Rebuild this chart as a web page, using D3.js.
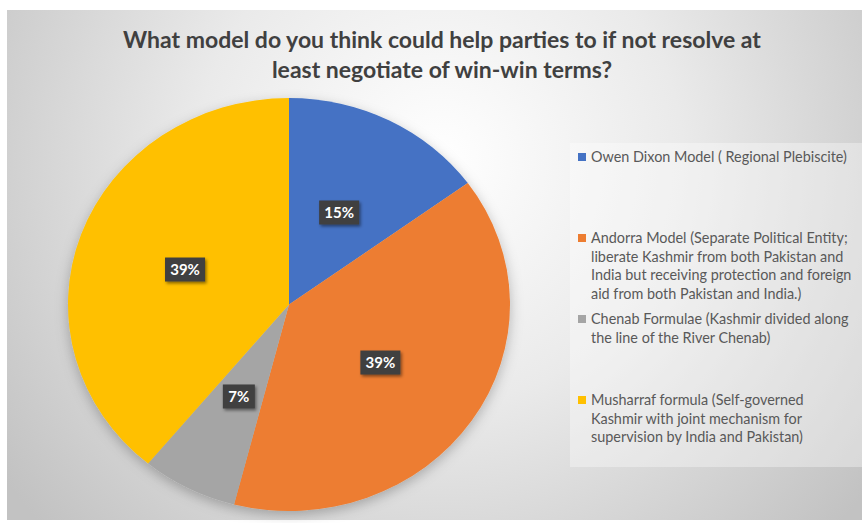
<!DOCTYPE html>
<html>
<head>
<meta charset="utf-8">
<script src="https://cdn.jsdelivr.net/npm/d3@7"></script>
<style>
  html, body { margin: 0; padding: 0; background: #fff; }
  svg { display: block; }
</style>
</head>
<body>
<svg id="chart" width="862" height="523"></svg>
<script>
// Survey answers: share of respondents per proposed model
const categories = [
  "Owen Dixon Model ( Regional Plebiscite)",
  "Andorra Model (Separate Political Entity; liberate Kashmir from both Pakistan and India but receiving protection and foreign aid from both Pakistan and India.)",
  "Chenab Formulae (Kashmir divided along the line of the River Chenab)",
  "Musharraf formula (Self-governed Kashmir with joint mechanism for supervision by India and Pakistan)"
];
const values = [15, 39, 7, 39];
const valueLabels = ["15%", "39%", "7%", "39%"];
const legendLines = [
  ["Owen Dixon Model ( Regional Plebiscite)"],
  ["Andorra Model (Separate Political Entity;", "liberate Kashmir from both Pakistan and", "India but receiving protection and foreign", "aid from both Pakistan and India.)"],
  ["Chenab Formulae (Kashmir divided along", "the line of the River Chenab)"],
  ["Musharraf formula (Self-governed", "Kashmir with joint mechanism for", "supervision by India and Pakistan)"]
];
const colors = ["#4472C4", "#ED7D31", "#A5A5A5", "#FFC000"];
const titleLines = [
  "What model do you think could help parties to if not resolve at",
  "least negotiate of win-win terms?"
];

const svg = d3.select("#chart");
const W = 862, H = 523;
const defs = svg.append("defs");

// chart area background: soft radial grey gradient
const bg = defs.append("radialGradient").attr("id", "bgGrad")
  .attr("gradientUnits", "userSpaceOnUse")
  .attr("cx", 440).attr("cy", 160).attr("r", 540);
bg.append("stop").attr("offset", "0%").attr("stop-color", "#ffffff");
bg.append("stop").attr("offset", "45%").attr("stop-color", "#eaeaea");
bg.append("stop").attr("offset", "100%").attr("stop-color", "#c2c2c2");

const pieShadow = defs.append("filter").attr("id", "pieShadow")
  .attr("x", "-20%").attr("y", "-20%").attr("width", "140%").attr("height", "140%");
pieShadow.append("feDropShadow").attr("dx", 0).attr("dy", 4).attr("stdDeviation", 6)
  .attr("flood-color", "#000").attr("flood-opacity", 0.25);

const boxShadow = defs.append("filter").attr("id", "boxShadow")
  .attr("x", "-30%").attr("y", "-30%").attr("width", "160%").attr("height", "160%");
boxShadow.append("feDropShadow").attr("dx", 1.5).attr("dy", 2).attr("stdDeviation", 1.5)
  .attr("flood-color", "#000").attr("flood-opacity", 0.45);

svg.append("rect").attr("x", 7).attr("y", 10).attr("width", W - 7).attr("height", 510)
  .attr("fill", "url(#bgGrad)");

// title
svg.append("g").selectAll("text").data(titleLines).join("text")
  .attr("x", 442).attr("y", (d, i) => 48 + i * 30)
  .attr("text-anchor", "middle")
  .attr("font-family", "Lato, 'Open Sans', sans-serif")
  .attr("font-weight", "bold").attr("font-size", 23)
  .attr("fill", "#404040")
  .text(d => d);

// pie (slightly wider than tall)
const cx = 289, cy = 304.5, ry = 206.5, rx = 221;
const sx = rx / ry;
const pie = d3.pie().sort(null).value(d => d)(values);
const arc = d3.arc().innerRadius(0).outerRadius(ry);

const pieG = svg.append("g")
  .attr("transform", `translate(${cx},${cy}) scale(${sx},1)`)
  .attr("filter", "url(#pieShadow)");
pieG.selectAll("path").data(pie).join("path")
  .attr("d", arc)
  .attr("fill", (d, i) => colors[i]);

// data labels in dark boxes at slice centroids
const labG = svg.append("g").attr("transform", `translate(${cx},${cy})`);
const labels = labG.selectAll("g").data(pie).join("g")
  .attr("transform", d => {
    const [x, y] = arc.centroid(d);
    return `translate(${x * sx},${y})`;
  });
labels.append("rect")
  .attr("x", (d, i) => valueLabels[i].length > 2 ? -20 : -16)
  .attr("y", -12)
  .attr("width", (d, i) => valueLabels[i].length > 2 ? 40 : 32)
  .attr("height", 24)
  .attr("fill", "#3f3f3f")
  .attr("filter", "url(#boxShadow)");
labels.append("text")
  .attr("text-anchor", "middle").attr("dy", "0.35em")
  .attr("font-family", "Lato, 'Open Sans', sans-serif")
  .attr("font-weight", "bold").attr("font-size", 15)
  .attr("fill", "#ffffff")
  .text((d, i) => valueLabels[i]);

// legend
svg.append("rect").attr("x", 570).attr("y", 143).attr("width", 292).attr("height", 324)
  .attr("fill", "#ffffff").attr("fill-opacity", 0.35);

const legendTop = [157, 238, 319, 400];
const lineH = 18.5;
const leg = svg.append("g").selectAll("g").data(categories).join("g")
  .attr("transform", (d, i) => `translate(578,${legendTop[i]})`);
leg.append("rect").attr("x", 0).attr("y", -4).attr("width", 8).attr("height", 8)
  .attr("fill", (d, i) => colors[i]);
leg.each(function(d, i) {
  d3.select(this).selectAll("text").data(legendLines[i]).join("text")
    .attr("x", 13).attr("y", (t, j) => j * lineH)
    .attr("dy", "0.36em")
    .attr("font-family", "Lato, 'Open Sans', sans-serif")
    .attr("font-size", 14.4)
    .attr("fill", "#595959")
    .text(t => t);
});
</script>
</body>
</html>
